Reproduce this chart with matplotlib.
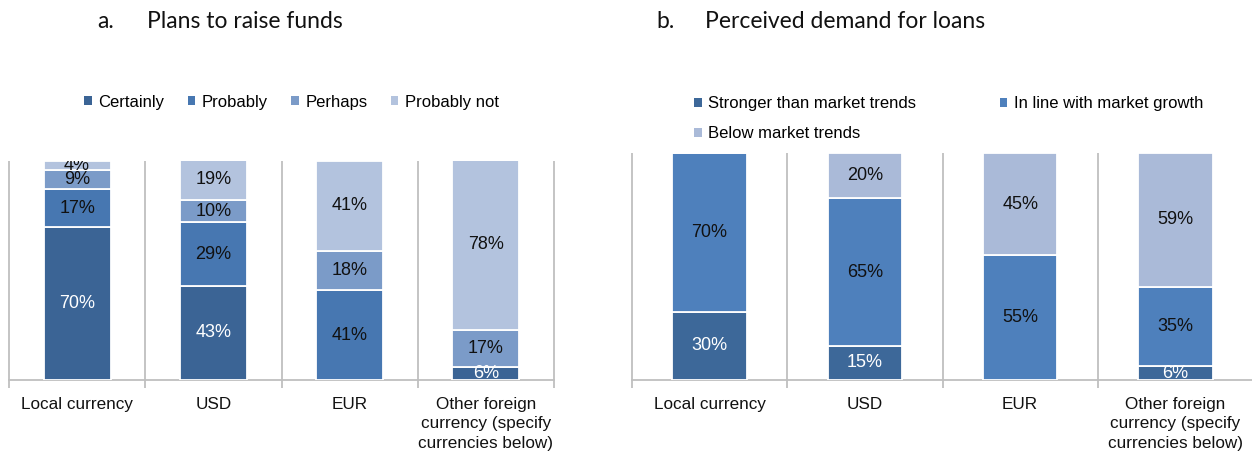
import matplotlib
matplotlib.use("Agg")
import matplotlib.pyplot as plt
from matplotlib.patches import Patch
import numpy as np

plt.rcParams['font.family'] = ['Liberation Sans', 'DejaVu Sans']

# ---------------- data ----------------
categories = ['Local currency', 'USD', 'EUR',
              'Other foreign\ncurrency (specify\ncurrencies below)']

a_title = 'Plans to raise funds'
a_series = ['Certainly', 'Probably', 'Perhaps', 'Probably not']
a_certainly = [70, 43, 0, 6]
a_probably = [17, 29, 41, 0]
a_perhaps = [9, 10, 18, 17]
a_probably_not = [4, 19, 41, 78]

b_title = 'Perceived demand for loans'
b_series = ['Stronger than market trends', 'In line with market growth',
            'Below market trends']
b_stronger = [30, 15, 0, 6]
b_inline = [70, 65, 55, 35]
b_below = [0, 20, 45, 59]

a_colors = ['#3b6495', '#4777b1', '#7b9bc8', '#b3c3de']
b_colors = ['#3d6899', '#4e80bc', '#aabad8']
a_text_colors = ['white', '#111111', '#111111', '#111111']
b_text_colors = ['white', '#111111', '#111111']

GRID = '#bfbfbf'
FS_TICK, FS_LBL, FS_LEG = 12.3, 13, 12

fig = plt.figure(figsize=(12.52, 4.65), dpi=100)
W, H = 1252, 465


def fx(px):
    return px / W


def fy(py):
    return 1 - py / H


def draw_panel(ax, series_vals, colors, tcolors, width):
    x = np.arange(len(categories))
    bottom = np.zeros(len(categories))
    for vals, c, tc in zip(series_vals, colors, tcolors):
        vals = np.array(vals, dtype=float)
        ax.bar(x, vals, width=width, bottom=bottom, color=c,
               edgecolor='white', linewidth=1.3, zorder=3)
        for xi, v, b in zip(x, vals, bottom):
            if v > 0:
                ax.text(xi, b + v / 2, f'{int(v)}%', ha='center', va='center',
                        color=tc, fontsize=FS_LBL, clip_on=True, zorder=4)
        bottom += vals
    ax.set_xlim(-0.5, len(categories) - 0.5)
    ax.set_ylim(0, 100)
    bounds = np.arange(len(categories) + 1) - 0.5
    ax.vlines(bounds, 0, 100, color=GRID, linewidth=1.3, zorder=1,
              clip_on=False)
    for s in ['top', 'left', 'right']:
        ax.spines[s].set_visible(False)
    ax.spines['bottom'].set_color(GRID)
    ax.spines['bottom'].set_linewidth(1.3)
    ax.set_yticks([])
    ax.set_xticks(x)
    ax.set_xticklabels(categories, fontsize=FS_TICK, color='#111111')
    ax.tick_params(axis='x', which='major', length=0, pad=12)
    ax.set_xticks(bounds, minor=True)
    ax.tick_params(axis='x', which='minor', length=6, width=1.3,
                   color=GRID, direction='out')
    for lbl in ax.get_xticklabels():
        lbl.set_linespacing(1.4)


# panel a
ax1 = fig.add_axes([fx(9), fy(380), fx(554 - 9), (380 - 161) / H])
draw_panel(ax1, [a_certainly, a_probably, a_perhaps, a_probably_not],
           a_colors, a_text_colors, 0.49)

# panel b
ax2 = fig.add_axes([fx(632), fy(380), fx(1253 - 632), (380 - 153) / H])
draw_panel(ax2, [b_stronger, b_inline, b_below],
           b_colors, b_text_colors, 0.48)

# legends
ha = [Patch(facecolor=c, edgecolor='none') for c in a_colors]
fig.legend(ha, a_series, loc='center left', bbox_to_anchor=(fx(84), fy(102)),
           ncol=4, frameon=False, fontsize=FS_LEG, handlelength=0.45,
           handleheight=0.45, handletextpad=0.4, columnspacing=1.4,
           borderaxespad=0, borderpad=0)

hb = [Patch(facecolor=c, edgecolor='none') for c in b_colors]
order = [0, 2, 1]
fig.legend([hb[i] for i in order], [b_series[i] for i in order],
           loc='center left', bbox_to_anchor=(fx(694), fy(118.5)),
           ncol=2, frameon=False, fontsize=FS_LEG, handlelength=0.45,
           handleheight=0.45, handletextpad=0.4, columnspacing=5.0,
           labelspacing=0.9, borderaxespad=0, borderpad=0)

# titles
tfam = ['Lato', 'DejaVu Sans']
fig.text(fx(97), fy(21), 'a.', fontsize=16.5, family=tfam,
         ha='left', va='center', color='#111111')
fig.text(fx(147), fy(21), a_title, fontsize=16.5, family=tfam,
         ha='left', va='center', color='#111111')
fig.text(fx(656), fy(21), 'b.', fontsize=16.5, family=tfam,
         ha='left', va='center', color='#111111')
fig.text(fx(705), fy(21), b_title, fontsize=16.5, family=tfam,
         ha='left', va='center', color='#111111')

fig.savefig('out.png', dpi=100)
